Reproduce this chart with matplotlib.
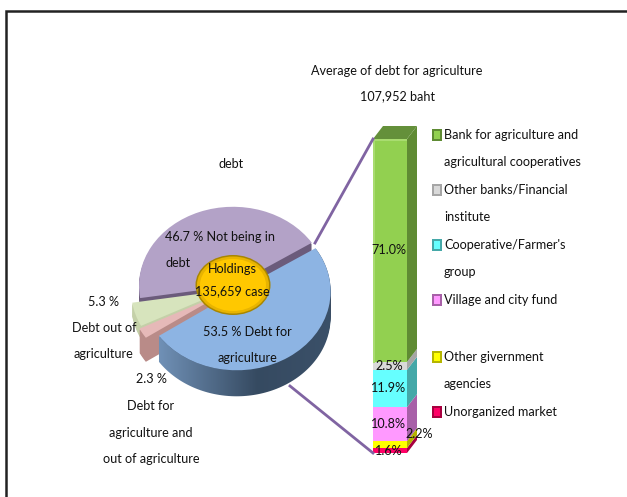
import numpy as np
import matplotlib
matplotlib.use("Agg")
import matplotlib.pyplot as plt
from matplotlib.patches import Polygon, Ellipse, Rectangle

plt.rcParams['font.family'] = ['Lato', 'DejaVu Sans']

# pie data (printed values, they do not add up to 100)
pie_names = ['Not being in debt', 'Debt out of agriculture',
             'Debt for agriculture and out of agriculture', 'Debt for agriculture']
pie_values = [46.7, 5.3, 2.3, 53.5]
pie_explode = [0.03, 0.10, 0.13, 0.05]
pie_colors = ['#B3A2C7', '#D7E4BD', '#E6B9B8', '#8DB4E3']
pie_sides = ['#6B5B7B', '#C4D0A8', '#B98B88', '#3A4C62']
side_px = [9, 14, 25, 25]

# stacked column data, bottom to top
bar_names = ['Unorganized market', 'Other givernment agencies', 'Village and city fund',
             "Cooperative/Farmer's group", 'Other banks/Financial institute',
             'Bank for agriculture and agricultural cooperatives']
bar_values = [1.6, 2.2, 10.8, 11.9, 2.5, 71.0]
bar_colors = ['#FF0066', '#FFFF00', '#FF99FF', '#66FFFF', '#D9D9D9', '#92D050']
bar_sides = ['#A8003F', '#B5B500', '#A860A8', '#45A8A8', '#A6A6A6', '#5F8B33']

W, H = 627, 497
fig = plt.figure(figsize=(W / 100, H / 100), dpi=100, facecolor='white')


def axes_px(x0, y0, x1, y1, zorder):
    return fig.add_axes([x0 / W, 1 - y1 / H, (x1 - x0) / W, (y1 - y0) / H], zorder=zorder)


# ---- pie -----
cx, cy, rx, ry = 234, 288, 94, 79
ax_pie = axes_px(cx - 1.5 * rx, cy - 1.5 * ry, cx + 1.5 * rx, cy + 1.5 * ry, 1)
start = 33
depth = 26 / ry

for d in np.linspace(depth, 0.02, 26):
    wedges, _ = ax_pie.pie(pie_values, explode=pie_explode, colors=pie_sides,
                           startangle=start, center=(0, -d), normalize=True,
                           wedgeprops={'linewidth': 0})
    for w, px in zip(wedges, side_px):
        w.set_zorder(1)
        w.set_visible(d * ry <= px)

top, _ = ax_pie.pie(pie_values, explode=pie_explode, colors=pie_colors,
                    startangle=start, normalize=True, wedgeprops={'linewidth': 0})
for w in top:
    w.set_zorder(3)

# gradient on the round side of the blue slice
angles = start + np.cumsum([0] + pie_values) / sum(pie_values) * 360
t = np.radians(np.linspace(angles[3], angles[4], 120))
mid = np.radians((angles[3] + angles[4]) / 2)
ox, oy = pie_explode[3] * np.cos(mid), pie_explode[3] * np.sin(mid)
upper = np.column_stack([ox + np.cos(t), oy + np.sin(t)])
lower = upper[::-1] - [0, depth]
band = Polygon(np.vstack([upper, lower]), transform=ax_pie.transData, fc='none', ec='none')
ax_pie.add_patch(band)
xs = np.linspace(0, 1, 200)
grad = np.interp(xs, [0, 0.55, 1], [0, 1, 0.9])
left_c, right_c = np.array([0.45, 0.58, 0.73]), np.array([0.21, 0.29, 0.38])
img = left_c[None, :] + grad[:, None] * (right_c - left_c)[None, :]
im = ax_pie.imshow(img[None, :, :], extent=(-0.85, 1.15, -1.6, 1.2), aspect='auto', zorder=2)
im.set_clip_path(band)

ax_pie.set_aspect('auto')
ax_pie.set_xlim(-1.5, 1.5)
ax_pie.set_ylim(-1.5, 1.5)
ax_pie.axis('off')

# ---- stacked column -----
bx0, bx1, by0, by1 = 373, 407, 453, 139
ax_bar = axes_px(bx0, by1, bx1, by0, 2)
bottoms = np.cumsum([0] + bar_values[:-1])
ax_bar.bar([0] * 6, bar_values, width=1, bottom=bottoms, color=bar_colors, linewidth=0)
ax_bar.set_xlim(-0.5, 0.5)
ax_bar.set_ylim(0, 100)
ax_bar.axis('off')

dx = 10 / (bx1 - bx0)
dy = 13 / (by0 - by1) * 100
for b, v, c in zip(bottoms, bar_values, bar_sides):
    ax_bar.add_patch(Polygon([(0.5, b), (0.5 + dx, b + dy), (0.5 + dx, b + v + dy), (0.5, b + v)],
                             fc=c, ec='none', clip_on=False))
ax_bar.add_patch(Polygon([(-0.5, 100), (-0.5 + dx, 100 + dy), (0.5 + dx, 100 + dy), (0.5, 100)],
                         fc='#64903A', ec='none', clip_on=False))
ax_bar.plot([-0.47, -0.47], [bottoms[-1], 100], color='#A9DC70', lw=1.5)
ax_bar.plot([-0.5, 0.5], [99.6, 99.6], color='#A9DC70', lw=1.5)

fs = 9.1
for b, v in zip(bottoms, bar_values):
    xpos = 0.85 if v == 2.2 else -0.03
    ypos = b + v / 2 + (3.5 if v == 2.2 else 0)
    if v == 1.6:
        ypos = 0.5
    ax_bar.text(xpos, ypos, '%.1f%%' % v, ha='center', va='center', fontsize=fs,
                color='#111111', clip_on=False, zorder=5)

# ---- overlay in pixel coordinates -----
ax = axes_px(0, 0, W, H, 5)
ax.set_xlim(0, W)
ax.set_ylim(H, 0)
ax.axis('off')

# frame
ax.plot([6, 6, W], [H, 11, 11], color='#222222', lw=1.8, solid_joinstyle='miter')

# connectors
ax.plot([315, bx0], [243, by1], color='#8064A2', lw=2)
ax.plot([290, bx0], [386, by0], color='#8064A2', lw=2)

# centre badge
ax.add_patch(Ellipse((233, 285), 75, 60, fc='#A88600', ec='none'))
ax.add_patch(Ellipse((233, 285), 72, 57, fc='#E8B400', ec='none'))
ax.add_patch(Ellipse((233, 285), 66, 52, fc='#FFC800', ec='none'))

for x, y, s, ha in [
    (397, 71, 'Average of debt for agriculture', 'center'),
    (397, 96, '107,952 baht', 'center'),
    (231, 164, 'debt', 'center'),
    (165, 237, '46.7 % Not being in', 'left'),
    (165, 263, 'debt', 'left'),
    (232, 269, 'Holdings', 'center'),
    (232, 291, '135,659 case', 'center'),
    (247, 332, '53.5 % Debt for', 'center'),
    (247, 358, 'agriculture', 'center'),
    (103, 302, '5.3 %', 'center'),
    (104, 328, 'Debt out of', 'center'),
    (103, 354, 'agriculture', 'center'),
    (151, 379, '2.3 %', 'center'),
    (151, 406, 'Debt for', 'center'),
    (151, 433, 'agriculture and', 'center'),
    (151, 459, 'out of agriculture', 'center'),
]:
    ax.text(x, y, s, ha=ha, va='center', fontsize=fs, color='#111111')

# legend, top to bottom
legend_rows = [
    (135, ['Bank for agriculture and', 'agricultural cooperatives'], 5),
    (190, ['Other banks/Financial', 'institute'], 4),
    (245, ["Cooperative/Farmer's", 'group'], 3),
    (300, ['Village and city fund'], 2),
    (357, ['Other givernment', 'agencies'], 1),
    (412, ['Unorganized market'], 0),
]
for y, lines, i in legend_rows:
    ax.add_patch(Rectangle((432, y - 6), 10, 12, fc=bar_sides[i], ec='none'))
    ax.add_patch(Rectangle((434, y - 4), 6, 8, fc=bar_colors[i], ec='none'))
    for j, s in enumerate(lines):
        ax.text(444, y + j * 27, s, ha='left', va='center', fontsize=fs, color='#111111')

fig.savefig('out.png', dpi=100)
